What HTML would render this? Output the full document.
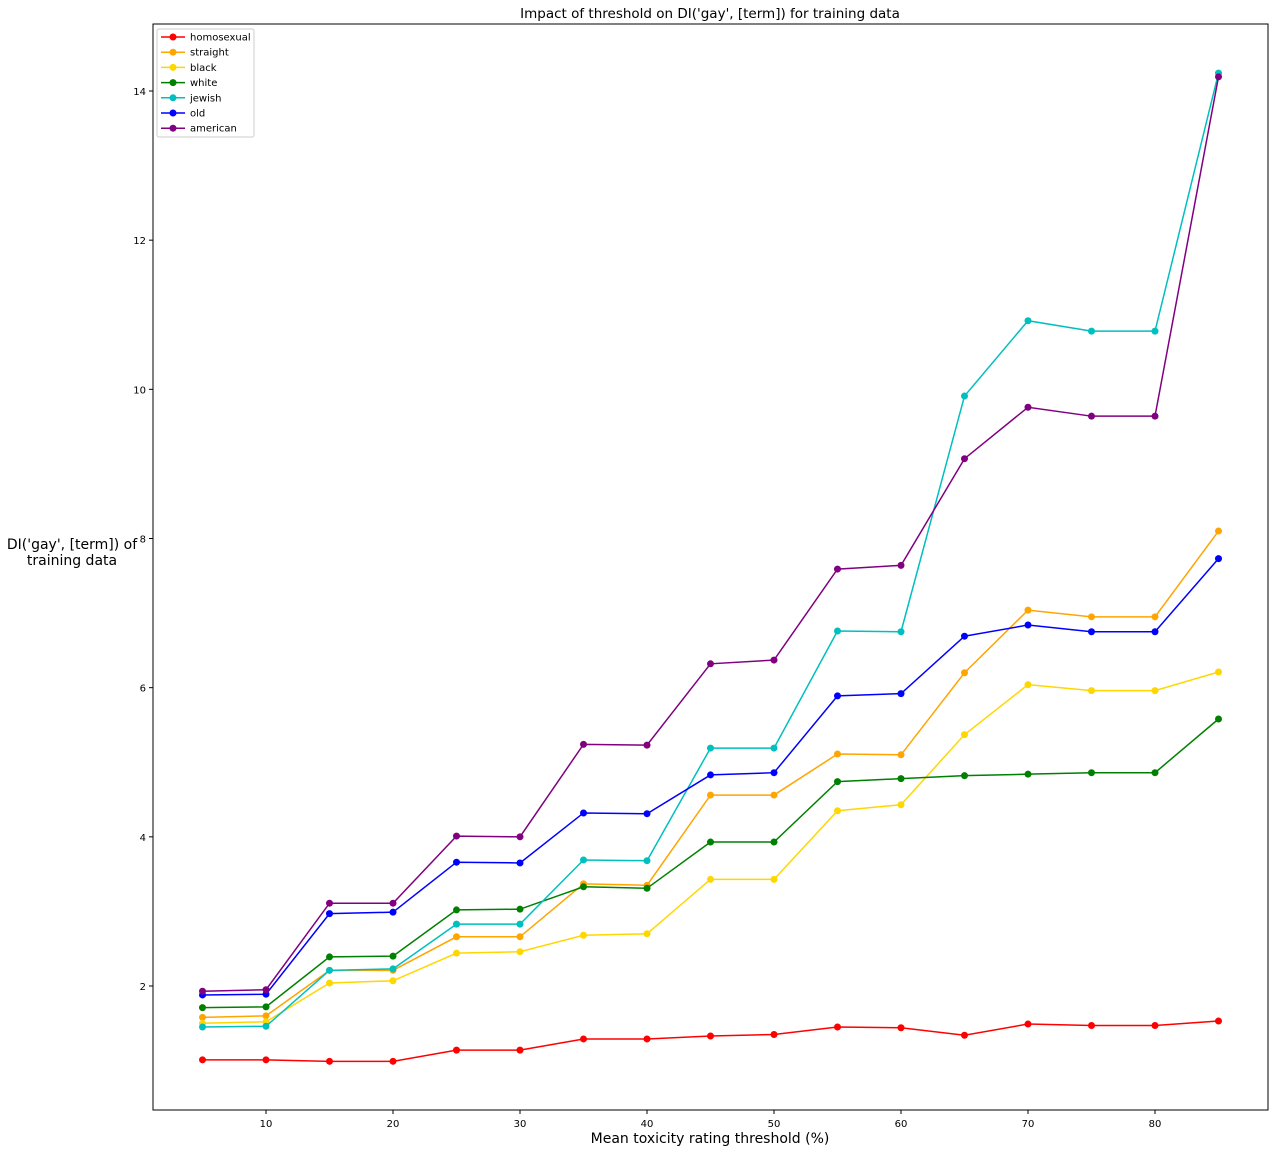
<!DOCTYPE html>
<html><head><meta charset="utf-8"><style>
body{margin:0;background:#fff;font-family:"Liberation Sans","DejaVu Sans",sans-serif}
</style></head><body>
<svg id="chart" width="1279" height="1153" xmlns="http://www.w3.org/2000/svg" font-family="DejaVu Sans, Liberation Sans, sans-serif">
<rect width="1279" height="1153" fill="#fff"/>
<text x="710" y="18" font-size="13.5" text-anchor="middle">Impact of threshold on DI('gay', [term]) for training data</text>
<text x="710" y="1143" font-size="14" text-anchor="middle">Mean toxicity rating threshold (%)</text>
<text font-size="14" text-anchor="middle"><tspan x="72" y="549">DI('gay', [term]) of</tspan><tspan x="72" y="565">training data</tspan></text>
<g id="axes"></g><g id="series"></g>
<rect x="153" y="24" width="1115" height="1086" fill="none" stroke="#000" stroke-width="1"/>
<g id="legend"></g>
</svg>
<script>
const thresholds=[5,10,15,20,25,30,35,40,45,50,55,60,65,70,75,80,85];
const xTicks=[10,20,30,40,50,60,70,80];
const yTicks=[2,4,6,8,10,12,14];
const seriesNames=["homosexual","straight","black","white","jewish","old","american"];
const seriesColors=["red","orange","gold","green","#00bfbf","blue","purple"];
const homosexual=[1.01,1.01,0.99,0.99,1.14,1.14,1.29,1.29,1.33,1.35,1.45,1.44,1.34,1.49,1.47,1.47,1.53];
const straight=[1.58,1.60,2.21,2.21,2.66,2.66,3.37,3.35,4.56,4.56,5.11,5.10,6.20,7.04,6.95,6.95,8.10];
const black=[1.50,1.52,2.04,2.07,2.44,2.46,2.68,2.70,3.43,3.43,4.35,4.43,5.37,6.04,5.96,5.96,6.21];
const white=[1.71,1.72,2.39,2.40,3.02,3.03,3.33,3.31,3.93,3.93,4.74,4.78,4.82,4.84,4.86,4.86,5.58];
const jewish=[1.45,1.46,2.21,2.23,2.83,2.83,3.69,3.68,5.19,5.19,6.76,6.75,9.91,10.92,10.78,10.78,14.24];
const old=[1.88,1.89,2.97,2.99,3.66,3.65,4.32,4.31,4.83,4.86,5.89,5.92,6.69,6.84,6.75,6.75,7.73];
const american=[1.93,1.95,3.11,3.11,4.01,4.00,5.24,5.23,6.32,6.37,7.59,7.64,9.07,9.76,9.64,9.64,14.19];
const allSeries=[homosexual,straight,black,white,jewish,old,american];
const NS="http://www.w3.org/2000/svg";
const xs=v=>266+(v-10)*(1155-266)/70;
const ys=v=>986-(v-2)*(986-91)/12;
function mk(t,a,p){const e=document.createElementNS(NS,t);for(const k in a)e.setAttribute(k,a[k]);p.appendChild(e);return e;}
const axes=document.getElementById('axes');
xTicks.forEach(t=>{
 const l=mk('line',{x1:xs(t),x2:xs(t),y1:1110,y2:1114,stroke:'#000'},axes);
 
 
 const tx=mk('text',{x:xs(t),y:1127,'font-size':10,'text-anchor':'middle'},axes);tx.textContent=t;
 
 
});
yTicks.forEach(t=>{
 const l=mk('line',{x1:149,x2:153,y1:ys(t),y2:ys(t),stroke:'#000'},axes);
 
 
 const tx=mk('text',{x:146,y:ys(t)+4,'font-size':10,'text-anchor':'end'},axes);tx.textContent=t;
 
 
});
const sg=document.getElementById('series');
allSeries.forEach((vals,i)=>{
 const g=mk('g',{},sg);
 
 
 const pl=mk('polyline',{points:vals.map((v,j)=>xs(thresholds[j])+','+ys(v)).join(' '),fill:'none',stroke:seriesColors[i],'stroke-width':1.5},g);
 
 
 vals.forEach((v,j)=>{
  const c=mk('circle',{cx:xs(thresholds[j]),cy:ys(v),r:3.5,fill:seriesColors[i]},g);
  
  
 });
});
const lg=document.getElementById('legend');


mk('rect',{x:157,y:29,width:97,height:108,fill:'#fff',stroke:'#ccc',rx:2},lg);
seriesNames.forEach((n,i)=>{
 const y=37+i*15.2;
 const e=mk('g',{},lg);
 
 
 mk('line',{x1:161,x2:185,y1:y,y2:y,stroke:seriesColors[i],'stroke-width':1.5},e);
 mk('circle',{cx:173,cy:y,r:3.5,fill:seriesColors[i]},e);
 const t=mk('text',{x:190,y:y+3.5,'font-size':10},e);t.textContent=n;
});
</script>
</body></html>
